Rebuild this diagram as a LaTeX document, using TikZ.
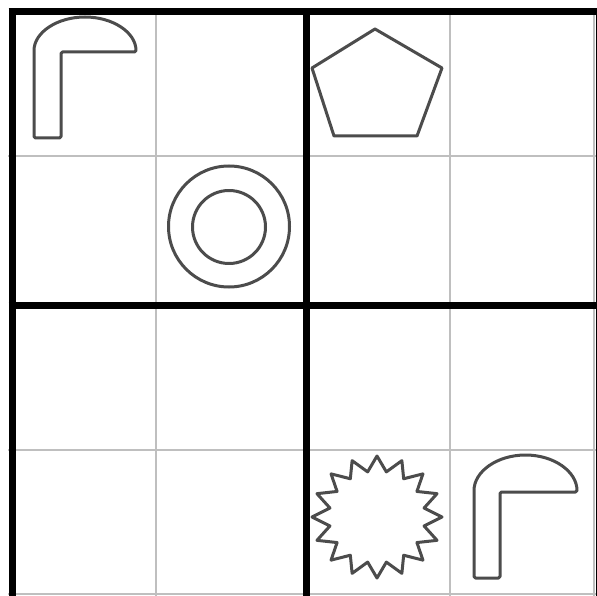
\documentclass[tikz,border=0pt]{standalone}
\begin{document}
\begin{tikzpicture}[x=1pt,y=-1pt,
  thin grid/.style={draw=black!25,line width=2pt},
  thick grid/.style={draw=black,line width=7pt},
  shapeline/.style={draw=black!70,line width=3pt,line join=round}]
\useasboundingbox (0,0) rectangle (597,596);
\fill[white] (0,0) rectangle (597,596);
% thin grid lines
\foreach \v in {156,450,594}{
  \draw[thin grid] (\v,8) -- (\v,600);
  \draw[thin grid] (8,\v) -- (600,\v);
}
% thick block lines
\foreach \v in {12,306,599}{
  \draw[thick grid] (\v,8.5) -- (\v,603);
}
\foreach \v in {12,305.5,599}{
  \draw[thick grid] (8.5,\v) -- (603,\v);
}
% hook top-left
\draw[shapeline,rounded corners=1.5pt] (34,138) -- (34,52) arc[start angle=180,end angle=0,x radius=51,y radius=-35] -- (61,52) -- (61,138) -- cycle;
% hook bottom-right
\draw[shapeline,rounded corners=1.5pt] (474,578) -- (474,492) arc[start angle=180,end angle=0,x radius=51.5,y radius=-37] -- (500,492) -- (500,578) -- cycle;
% pentagon
\draw[shapeline] (375,29) -- (442,68) -- (417,136) -- (334,136) -- (312,68) -- cycle;
% rings
\draw[shapeline] (229,226.5) circle[radius=60.5];
\draw[shapeline] (229,227) circle[radius=36.5];
% starburst
\draw[shapeline] plot[samples at={0,...,31}] ({377+cos(90+\x*11.25)*(mod(\x,2)==0 ? 65 : 48)}, {517-sin(90+\x*11.25)*(mod(\x,2)==0 ? 61 : 46)}) -- cycle;
\end{tikzpicture}
\end{document}
